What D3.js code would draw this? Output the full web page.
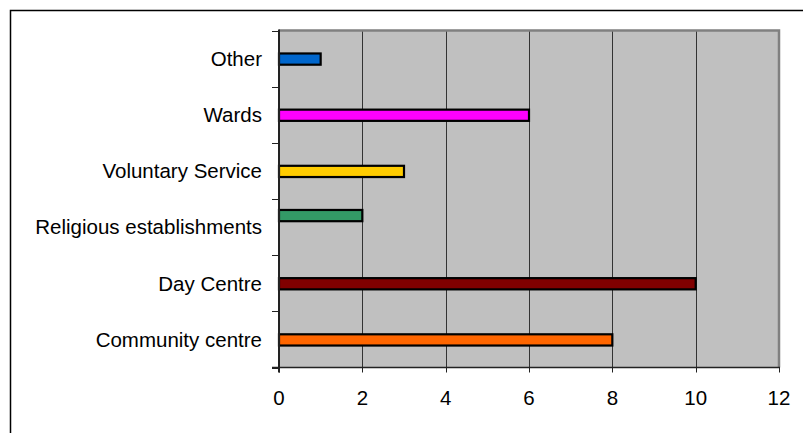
<!DOCTYPE html>
<html>
<head>
<meta charset="utf-8">
<script src="https://cdn.jsdelivr.net/npm/d3@7"></script>
<style>
  body { margin: 0; background: #fff; }
  svg { display: block; }
</style>
</head>
<body>
<div id="chart"></div>
<script>
  const categories = ["Other", "Wards", "Voluntary Service", "Religious establishments", "Day Centre", "Community centre"];
  const values = [1, 6, 3, 2, 10, 8];
  const colors = ["#0066cc", "#ff00ff", "#ffcc00", "#339966", "#800000", "#ff6600"];
  const xTicks = [0, 2, 4, 6, 8, 10, 12];

  const width = 803;
  const height = 433;
  const plot = { left: 279, right: 779, top: 30.5, bottom: 367.5 };
  // the original has this one bar sitting higher in its band
  const barShift = { "Religious establishments": -12 };

  const svg = d3.select("#chart").append("svg")
    .attr("width", width)
    .attr("height", height);

  // outer frame (right and bottom edges fall outside the picture)
  svg.append("rect")
    .attr("x", 10.5).attr("y", 10.5)
    .attr("width", 820).attr("height", 440)
    .style("fill", "#fff")
    .style("stroke", "#000")
    .style("stroke-width", 1.5);

  const x = d3.scaleLinear()
    .domain([0, 12])
    .range([plot.left, plot.right]);

  const y = d3.scaleBand()
    .domain(categories)
    .range([plot.top, plot.bottom])
    .paddingInner(0.8)
    .paddingOuter(0.4);

  // plot area
  svg.append("rect")
    .attr("x", plot.left).attr("y", plot.top)
    .attr("width", plot.right - plot.left)
    .attr("height", plot.bottom - plot.top)
    .style("fill", "#c0c0c0");

  // vertical gridlines
  svg.selectAll(".grid")
    .data(xTicks.filter(d => d > 0 && d < 12))
    .enter()
    .append("line")
    .attr("class", "grid")
    .attr("x1", d => Math.round(x(d)) + 0.5)
    .attr("x2", d => Math.round(x(d)) + 0.5)
    .attr("y1", plot.top)
    .attr("y2", plot.bottom)
    .style("stroke", "#333")
    .style("stroke-width", 1);

  // top and right border of plot area
  svg.append("path")
    .attr("d", "M" + plot.left + "," + plot.top + "H" + plot.right + "V" + plot.bottom)
    .style("fill", "none")
    .style("stroke", "#808080")
    .style("stroke-width", 2.5);

  // bars
  svg.selectAll(".bar")
    .data(categories)
    .enter()
    .append("rect")
    .attr("class", "bar")
    .attr("x", x(0))
    .attr("y", d => y(d) + 0.5 + (barShift[d] || 0))
    .attr("width", (d, i) => x(values[i]) - x(0))
    .attr("height", y.bandwidth())
    .style("fill", (d, i) => colors[i])
    .style("stroke", "#000")
    .style("stroke-width", 2.2);

  // y axis line and ticks at band boundaries
  const step = y.step();
  svg.append("line")
    .attr("x1", plot.left).attr("x2", plot.left)
    .attr("y1", plot.top - 1).attr("y2", plot.bottom + 5)
    .style("stroke", "#222")
    .style("stroke-width", 2);
  svg.selectAll(".ytick")
    .data(d3.range(categories.length + 1))
    .enter()
    .append("line")
    .attr("class", "ytick")
    .attr("x1", plot.left - 7).attr("x2", plot.left)
    .attr("y1", i => Math.round(plot.top + i * step) + 0.5)
    .attr("y2", i => Math.round(plot.top + i * step) + 0.5)
    .style("stroke", "#222")
    .style("stroke-width", 1);

  // x axis line and ticks
  svg.append("line")
    .attr("x1", plot.left - 7).attr("x2", plot.right + 1)
    .attr("y1", plot.bottom).attr("y2", plot.bottom)
    .style("stroke", "#222")
    .style("stroke-width", 1.5);
  svg.selectAll(".xtick")
    .data(xTicks)
    .enter()
    .append("line")
    .attr("class", "xtick")
    .attr("x1", d => Math.round(x(d)) + 0.5)
    .attr("x2", d => Math.round(x(d)) + 0.5)
    .attr("y1", plot.bottom)
    .attr("y2", plot.bottom + 5)
    .style("stroke", "#222")
    .style("stroke-width", 1);

  // x tick labels
  svg.selectAll(".xlabel")
    .data(xTicks)
    .enter()
    .append("text")
    .attr("class", "xlabel")
    .attr("x", d => x(d))
    .attr("y", 405)
    .style("text-anchor", "middle")
    .style("font", "20.5px 'Liberation Sans', Arial, sans-serif")
    .style("fill", "#000")
    .text(d => d);

  // category labels
  svg.selectAll(".ylabel")
    .data(categories)
    .enter()
    .append("text")
    .attr("class", "ylabel")
    .attr("x", 262)
    .attr("y", d => y(d) + y.bandwidth() / 2)
    .attr("dy", "0.36em")
    .style("text-anchor", "end")
    .style("font", "20.5px 'Liberation Sans', Arial, sans-serif")
    .style("fill", "#000")
    .text(d => d);
</script>
</body>
</html>
